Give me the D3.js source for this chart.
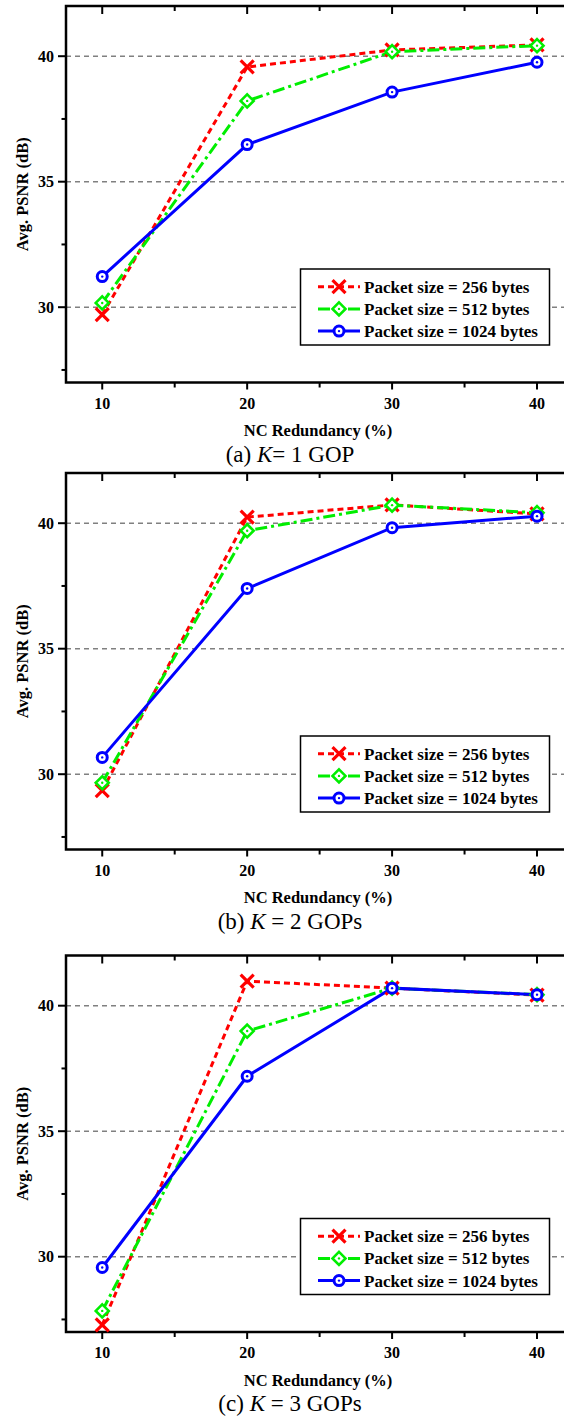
<!DOCTYPE html>
<html><head><meta charset="utf-8">
<script src="https://cdn.jsdelivr.net/npm/d3@7"></script>
<style>body{margin:0;background:#fff;}svg{display:block;}</style>
</head><body>
<svg id="c" width="564" height="1418"></svg>
<script>
const xValues = [10, 20, 30, 40];
const seriesNames = ["Packet size = 256 bytes", "Packet size = 512 bytes", "Packet size = 1024 bytes"];
const yTicks = [30, 35, 40];
const xTicks = [10, 20, 30, 40];
// panel (a) K = 1 GOP
const a256 = [29.7, 39.57, 40.25, 40.45];
const a512 = [30.17, 38.22, 40.18, 40.42];
const a1024 = [31.22, 36.48, 38.57, 39.76];
// panel (b) K = 2 GOPs
const b256 = [29.35, 40.24, 40.73, 40.37];
const b512 = [29.66, 39.7, 40.72, 40.42];
const b1024 = [30.67, 37.4, 39.82, 40.28];
// panel (c) K = 3 GOPs
const c256 = [27.28, 40.98, 40.7, 40.42];
const c512 = [27.84, 38.99, 40.7, 40.44];
const c1024 = [29.57, 37.19, 40.7, 40.44];
const captions = [["(a) ", "K", "= 1 GOP"], ["(b) ", "K", " = 2 GOPs"], ["(c) ", "K", " = 3 GOPs"]];

const panels = [
  {top: 6, data: [a256, a512, a1024], cap: captions[0]},
  {top: 473, data: [b256, b512, b1024], cap: captions[1]},
  {top: 955.5, data: [c256, c512, c1024], cap: captions[2]}
];
const colors = ["#ff0000", "#00ee00", "#0000ff"];
const dashes = ["6,4", "12,4,3,4", null];
const serif = "'Liberation Serif','Times New Roman',serif";
const svg = d3.select("#c");
const H = 376.5, L = 66, R = 566;

function marker(g, kind, x, y, col) {
  if (kind === 0) {
    const s = 6.5;
    g.append("path").attr("d", `M${x-s},${y-s}L${x+s},${y+s}M${x-s},${y+s}L${x+s},${y-s}`)
      .attr("stroke", col).attr("stroke-width", 3.2).attr("fill", "none");
  } else if (kind === 1) {
    const s = 6.5;
    g.append("path").attr("d", `M${x},${y-s}L${x+s},${y}L${x},${y+s}L${x-s},${y}Z`)
      .attr("stroke", col).attr("stroke-width", 2.6).attr("fill", "#fff");
    g.append("circle").attr("cx", x).attr("cy", y).attr("r", 1.2).attr("fill", col);
  } else {
    g.append("circle").attr("cx", x).attr("cy", y).attr("r", 5).attr("stroke", col)
      .attr("stroke-width", 3).attr("fill", "#fff");
    g.append("circle").attr("cx", x).attr("cy", y).attr("r", 1.2).attr("fill", col);
  }
}

panels.forEach(p => {
  const top = p.top, bot = top + H;
  const x = d3.scaleLinear().domain([7.5, 42]).range([L, R]);
  const y = d3.scaleLinear().domain([27, 42]).range([bot, top]);
  const g = svg.append("g");
  // grid
  g.selectAll(".grid").data(yTicks).enter().append("line")
    .attr("x1", L).attr("x2", R).attr("y1", d => y(d)).attr("y2", d => y(d))
    .attr("stroke", "#808080").attr("stroke-width", 1.5).attr("stroke-dasharray", "5,4");
  // y axis ticks
  const gl = g.append("g").attr("transform", `translate(${L},0)`);
  [27.5, 30, 32.5, 35, 37.5, 40].forEach(v => {
    const major = yTicks.includes(v);
    gl.append("line").attr("x1", major ? -8 : -4.5).attr("x2", 0).attr("y1", y(v)).attr("y2", y(v))
      .attr("stroke", "#000").attr("stroke-width", 2);
  });
  gl.selectAll("text").data(yTicks).enter().append("text")
    .attr("x", -12).attr("y", d => y(d)).attr("dy", "0.35em").attr("text-anchor", "end")
    .attr("font-family", serif).attr("font-weight", "bold").attr("font-size", 16).text(d => d);
  const minorX = [15, 25, 35];
  xTicks.concat(minorX).forEach(v => {
    const major = xTicks.includes(v);
    g.append("line").attr("x1", x(v)).attr("x2", x(v)).attr("y1", bot).attr("y2", bot + (major ? 7 : 5))
      .attr("stroke", "#000").attr("stroke-width", 2);
    g.append("line").attr("x1", x(v)).attr("x2", x(v)).attr("y1", top).attr("y2", top + (major ? 8 : 5))
      .attr("stroke", "#000").attr("stroke-width", 2);
  });
  g.selectAll(".xl").data(xTicks).enter().append("text")
    .attr("x", d => x(d)).attr("y", bot + 20.5).attr("dy", "0.35em").attr("text-anchor", "middle")
    .attr("font-family", serif).attr("font-weight", "bold").attr("font-size", 16).text(d => d);
  g.append("text").attr("x", 318).attr("y", bot + 48).attr("dy", "0.35em").attr("text-anchor", "middle")
    .attr("font-family", serif).attr("font-weight", "bold").attr("font-size", 16.5).text("NC Redundancy (%)");
  g.append("text").attr("transform", `translate(22,${(top + bot) / 2}) rotate(-90)`)
    .attr("dy", "0.35em").attr("text-anchor", "middle")
    .attr("font-family", serif).attr("font-weight", "bold").attr("font-size", 16.5).text("Avg. PSNR (dB)");
  const cap = g.append("text").attr("x", 290).attr("y", bot + 79).attr("text-anchor", "middle")
    .attr("font-family", serif).attr("font-size", 23);
  cap.append("tspan").text(p.cap[0]);
  cap.append("tspan").attr("font-style", "italic").text(p.cap[1]);
  cap.append("tspan").text(p.cap[2]);
  // lines
  const line = d3.line().x((d, i) => x(xValues[i])).y(d => y(d));
  p.data.forEach((s, k) => {
    const path = g.append("path").datum(s).attr("d", line).attr("fill", "none")
      .attr("stroke", colors[k]).attr("stroke-width", 3);
    if (dashes[k]) path.attr("stroke-dasharray", dashes[k]);
  });
  // frame
  g.append("rect").attr("x", L).attr("y", top).attr("width", R - L).attr("height", H)
    .attr("fill", "none").attr("stroke", "#000").attr("stroke-width", 2.5);
  // markers
  p.data.forEach((s, k) => {
    s.forEach((v, i) => marker(g, k, x(xValues[i]), y(v), colors[k]));
  });
  // legend
  const lg = g.append("g").attr("transform", `translate(300.5,${top + 263})`);
  lg.append("rect").attr("width", 249).attr("height", 76).attr("fill", "#fff")
    .attr("stroke", "#000").attr("stroke-width", 1.5);
  seriesNames.forEach((n, k) => {
    const ry = 17.7 + k * 22.2;
    const ln = lg.append("line").attr("x1", 17.5).attr("x2", 59.5).attr("y1", ry).attr("y2", ry)
      .attr("stroke", colors[k]).attr("stroke-width", 3);
    if (dashes[k]) ln.attr("stroke-dasharray", k === 0 ? "6,4" : "12,3");
    marker(lg, k, 38.5, ry, colors[k]);
    lg.append("text").attr("x", 63.5).attr("y", ry).attr("dy", "0.35em")
      .attr("font-family", serif).attr("font-weight", "bold").attr("font-size", 17).text(n);
  });
});
</script>
</body></html>
